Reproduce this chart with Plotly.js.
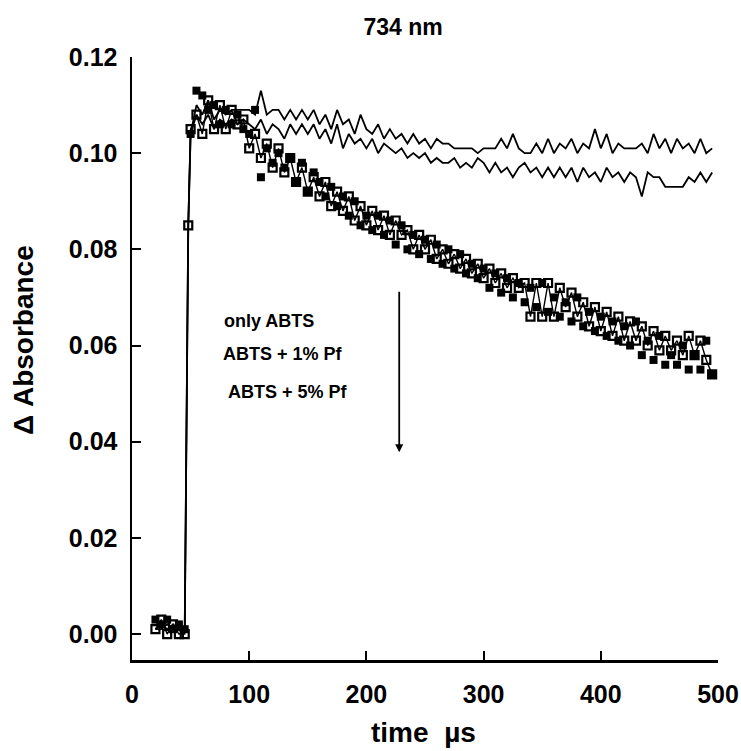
<!DOCTYPE html>
<html>
<head>
<meta charset="utf-8">
<script src="https://cdn.plot.ly/plotly-3.0.1.min.js"></script>
<style>html,body{margin:0;padding:0;background:#fff;}#chart{width:741px;height:751px;}</style>
</head>
<body>
<div id="chart"></div>
<script>
// time in microseconds
const time = [20,25,30,35,40,45,48,
  50,55,60,65,70,75,80,85,90,95,100,105,110,115,120,125,130,135,140,145,150,155,160,165,170,175,180,185,190,195,
  200,205,210,215,220,225,230,235,240,245,250,255,260,265,270,275,280,285,290,295,300,305,310,315,320,325,330,335,340,345,
  350,355,360,365,370,375,380,385,390,395,400,405,410,415,420,425,430,435,440,445,450,455,460,465,470,475,480,485,490,495];

const onlyABTS = [0.001,0.002,0.001,0.002,0.001,0.001,0.085,
  0.104,0.110,0.108,0.111,0.107,0.109,0.108,0.109,0.109,0.109,0.109,0.108,0.113,0.108,0.109,0.109,0.107,0.109,0.107,0.109,0.107,0.109,0.106,0.108,0.105,0.109,0.106,0.107,0.104,0.108,
  0.105,0.104,0.106,0.103,0.105,0.103,0.104,0.102,0.104,0.102,0.103,0.101,0.103,0.102,0.102,0.101,0.101,0.101,0.101,0.100,0.101,0.101,0.101,0.103,0.101,0.104,0.101,0.100,0.100,0.102,
  0.100,0.103,0.100,0.102,0.101,0.103,0.100,0.102,0.101,0.105,0.101,0.104,0.100,0.102,0.101,0.101,0.101,0.102,0.100,0.104,0.101,0.103,0.100,0.103,0.101,0.102,0.100,0.103,0.100,0.101];

const abts1Pf = [0.001,0.001,0.002,0.001,0.001,0.001,0.085,
  0.104,0.108,0.106,0.108,0.105,0.107,0.106,0.107,0.106,0.107,0.106,0.105,0.107,0.104,0.106,0.105,0.103,0.106,0.104,0.106,0.104,0.106,0.103,0.105,0.102,0.106,0.101,0.104,0.102,0.103,
  0.101,0.103,0.100,0.102,0.101,0.100,0.101,0.099,0.100,0.099,0.100,0.098,0.099,0.098,0.098,0.099,0.097,0.098,0.097,0.099,0.098,0.096,0.098,0.096,0.097,0.095,0.097,0.098,0.096,0.097,
  0.095,0.097,0.095,0.097,0.095,0.097,0.094,0.097,0.095,0.096,0.094,0.097,0.095,0.096,0.094,0.096,0.095,0.091,0.096,0.095,0.095,0.093,0.093,0.093,0.093,0.095,0.094,0.096,0.094,0.096];

const abts5PfFilled = [0.003,0.002,0.003,0.001,0.002,0.001,null,
  0.104,0.113,0.112,0.109,0.110,0.106,0.109,0.106,0.108,0.105,0.104,0.109,0.095,0.101,0.098,0.100,0.097,0.099,0.094,0.098,0.092,0.096,0.094,0.091,0.093,0.089,0.091,0.087,0.090,0.085,
  0.087,0.084,0.087,0.083,0.086,0.081,0.085,0.080,0.083,0.079,0.082,0.078,0.081,0.077,0.080,0.076,0.079,0.075,0.077,0.074,0.076,0.072,0.075,0.071,0.074,0.070,0.073,0.069,0.072,0.068,
  0.073,0.067,0.070,0.066,0.069,0.065,0.070,0.064,0.067,0.063,0.066,0.062,0.065,0.061,0.064,0.060,0.065,0.058,0.061,0.057,0.062,0.056,0.058,0.056,0.060,0.055,0.058,0.055,0.061,0.054];

const abts5PfOpen = [0.001,0.003,0.000,0.002,0.000,0.000,0.085,
  0.105,0.108,0.104,0.111,0.105,0.110,0.105,0.109,0.106,0.107,0.101,0.104,0.099,0.102,0.097,0.101,0.096,0.099,0.094,0.097,0.092,0.095,0.091,0.094,0.089,0.092,0.088,0.091,0.086,0.089,
  0.085,0.088,0.084,0.087,0.083,0.086,0.083,0.084,0.080,0.083,0.080,0.082,0.078,0.080,0.077,0.079,0.076,0.078,0.075,0.077,0.074,0.076,0.073,0.075,0.072,0.074,0.072,0.073,0.066,0.073,
  0.066,0.073,0.066,0.072,0.068,0.071,0.066,0.069,0.064,0.068,0.063,0.067,0.062,0.066,0.061,0.065,0.061,0.064,0.060,0.063,0.059,0.062,0.059,0.061,0.058,0.062,0.058,0.061,0.057,0.054];

const legendLabels = ["only ABTS", "ABTS + 1% Pf", "ABTS + 5% Pf"];
const xTicks = [0,100,200,300,400,500];
const yTicks = [0.00,0.02,0.04,0.06,0.08,0.10,0.12];

const FONT = "Liberation Sans, Arial, sans-serif";

const traces = [
  {x: time, y: onlyABTS, mode: "lines", line: {color: "#000", width: 1.8}, name: legendLabels[0]},
  {x: time, y: abts1Pf, mode: "lines", line: {color: "#000", width: 1.8}, name: legendLabels[1]},
  {x: time, y: abts5PfOpen, mode: "lines+markers", line: {color: "#000", width: 1.4},
   marker: {symbol: "square-open", size: 8, color: "#000", line: {width: 2.2, color: "#000"}}, name: legendLabels[2]},
  {x: time, y: abts5PfFilled, mode: "markers",
   marker: {symbol: "square", size: 8, color: "#000"}, name: legendLabels[2] + " (data)"}
];

const layout = {
  width: 741, height: 751,
  margin: {l: 132, r: 23, t: 57, b: 91},
  paper_bgcolor: "#fff", plot_bgcolor: "#fff",
  showlegend: false,
  font: {family: FONT, color: "#000"},
  title: {text: "<b>734 nm</b>", x: 0.544, xanchor: "center", y: 0.964, yanchor: "middle",
          font: {family: FONT, size: 23, color: "#000"}},
  xaxis: {
    range: [0, 500], tickvals: xTicks, ticktext: xTicks.map(String),
    showline: true, linecolor: "#000", linewidth: 2.5,
    ticks: "inside", ticklen: 9, tickwidth: 2, tickcolor: "#000",
    showgrid: false, zeroline: false, ticklabelstandoff: 10,
    tickfont: {family: FONT, size: 25, color: "#000", weight: "bold"}
  },
  yaxis: {
    range: [-0.0054, 0.12], tickvals: yTicks, ticktext: yTicks.map(v => v.toFixed(2)),
    showline: true, linecolor: "#000", linewidth: 2.5,
    ticks: "inside", ticklen: 9, tickwidth: 2, tickcolor: "#000",
    showgrid: false, zeroline: false, ticklabelstandoff: 7,
    tickfont: {family: FONT, size: 25, color: "#000", weight: "bold"}
  },
  annotations: [
    {x: -0.184, y: 0.531, xref: "paper", yref: "paper", text: "<b>Δ Absorbance</b>", textangle: -90,
     showarrow: false, xanchor: "center", yanchor: "middle", font: {family: FONT, size: 28, color: "#000"}},
    {x: 0.497, y: -0.121, xref: "paper", yref: "paper", text: "<b>time  µs</b>",
     showarrow: false, xanchor: "center", yanchor: "middle", font: {family: FONT, size: 28, color: "#000"}},
    {x: 77, y: 0.0652, xref: "x", yref: "y", text: "<b>" + legendLabels[0] + "</b>", showarrow: false,
     xanchor: "left", yanchor: "middle", font: {family: FONT, size: 18, color: "#000"}},
    {x: 76, y: 0.0583, xref: "x", yref: "y", text: "<b>" + legendLabels[1] + "</b>", showarrow: false,
     xanchor: "left", yanchor: "middle", font: {family: FONT, size: 18, color: "#000"}},
    {x: 80, y: 0.0503, xref: "x", yref: "y", text: "<b>" + legendLabels[2] + "</b>", showarrow: false,
     xanchor: "left", yanchor: "middle", font: {family: FONT, size: 18, color: "#000"}},
    {x: 228, y: 0.0378, xref: "x", yref: "y", ax: 228, ay: 0.0715, axref: "x", ayref: "y",
     text: "", showarrow: true, arrowhead: 2, arrowsize: 0.9, arrowwidth: 1.8, arrowcolor: "#000"}
  ]
};

Plotly.newPlot("chart", traces, layout, {displayModeBar: false, staticPlot: true});
</script>
</body>
</html>
